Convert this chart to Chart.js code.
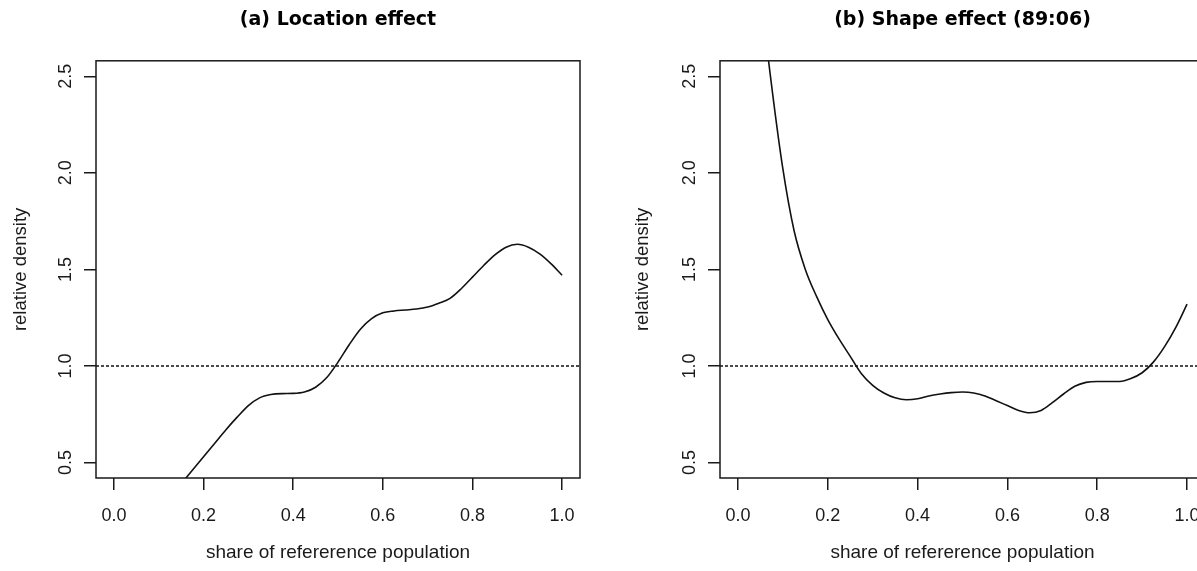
<!DOCTYPE html>
<html>
<head>
<meta charset="utf-8">
<script src="https://cdn.jsdelivr.net/npm/chart.js@4.4.0/dist/chart.umd.min.js"></script>
<style>
html, body { margin: 0; padding: 0; background: #fff; overflow: hidden; width: 1197px; height: 571px; }
canvas { position: absolute; top: 0; }
</style>
</head>
<body>
<canvas id="chartA" width="598" height="571" style="left:0"></canvas>
<canvas id="chartB" width="630" height="571" style="left:598px"></canvas>
<script>
// tick marks on both panels
var xTicks = [0, 0.2, 0.4, 0.6, 0.8, 1.0];
var yTicks = [0.5, 1.0, 1.5, 2.0, 2.5];
var xLimits = [-0.04, 1.04];
var yLimits = [0.42, 2.58];
var refLevel = 1.0;

// (a) location effect
var xA = [0, 0.05, 0.1, 0.125, 0.15, 0.175, 0.2, 0.225, 0.25, 0.275, 0.3, 0.325, 0.35, 0.375, 0.4,
          0.425, 0.45, 0.475, 0.5, 0.525, 0.55, 0.575, 0.6, 0.625, 0.65, 0.675, 0.7, 0.725, 0.75,
          0.775, 0.8, 0.825, 0.85, 0.875, 0.9, 0.925, 0.95, 0.975, 1.0];
var yA = [0.12, 0.16, 0.25, 0.32, 0.39, 0.46, 0.53, 0.60, 0.67, 0.735, 0.795, 0.835, 0.852, 0.857, 0.858,
          0.865, 0.89, 0.94, 1.02, 1.11, 1.19, 1.245, 1.275, 1.285, 1.29, 1.295, 1.305, 1.325, 1.35,
          1.40, 1.46, 1.52, 1.575, 1.615, 1.63, 1.615, 1.58, 1.53, 1.47];

// (b) shape effect
var xB = [0, 0.025, 0.05, 0.075, 0.1, 0.125, 0.15, 0.175, 0.2, 0.225, 0.25, 0.275, 0.3, 0.325, 0.35,
          0.375, 0.4, 0.425, 0.45, 0.475, 0.5, 0.525, 0.55, 0.575, 0.6, 0.625, 0.65, 0.675, 0.7,
          0.725, 0.75, 0.775, 0.8, 0.825, 0.85, 0.875, 0.9, 0.925, 0.95, 0.975, 1.0];
var yB = [4.2, 3.55, 2.95, 2.45, 2.02, 1.70, 1.50, 1.36, 1.24, 1.14, 1.05, 0.96, 0.90, 0.86, 0.835,
          0.825, 0.83, 0.845, 0.855, 0.862, 0.865, 0.86, 0.845, 0.82, 0.795, 0.77, 0.758, 0.77, 0.81,
          0.855, 0.895, 0.915, 0.92, 0.92, 0.92, 0.935, 0.965, 1.02, 1.10, 1.20, 1.32];

var ink = '#1a1a1a';
var textFont = 'Liberation Sans';

// R style frame round the plot region
var boxPlugin = {
    id: 'rbox',
    afterDatasetsDraw: function(chart) {
        var a = chart.chartArea, ctx = chart.ctx;
        ctx.save();
        ctx.strokeStyle = ink;
        ctx.lineWidth = 1.5;
        ctx.strokeRect(a.left, a.top, a.right - a.left, a.bottom - a.top);
        ctx.restore();
    }
};

function toPoints(xs, ys)
{
    var pts = [];
    for (var i = 0; i < xs.length; ++i) pts.push({x: xs[i], y: ys[i]});
    return pts;
}

function makeChart(id, titleText, xs, ys, yWidth, yTitlePad, rightPad)
{
    var tickGrid = {drawOnChartArea: false, drawTicks: true, tickLength: 12, tickColor: ink, tickWidth: 1.5, lineWidth: 1.5};
    return new Chart(document.getElementById(id), {
        type: 'line',
        data: {
            datasets: [
                {
                    data: toPoints(xs, ys),
                    borderColor: '#111',
                    borderWidth: 1.6,
                    pointRadius: 0,
                    cubicInterpolationMode: 'monotone',
                    fill: false
                },
                {
                    data: [{x: xLimits[0], y: refLevel}, {x: xLimits[1], y: refLevel}],
                    borderColor: '#111',
                    borderWidth: 1.6,
                    borderDash: [3, 2],
                    pointRadius: 0,
                    fill: false
                }
            ]
        },
        options: {
            responsive: false,
            animation: false,
            events: [],
            layout: {padding: {left: 0, right: rightPad, top: 0, bottom: 0}},
            plugins: {
                legend: {display: false},
                tooltip: {enabled: false},
                title: {
                    display: true,
                    text: titleText,
                    fullSize: false,
                    color: '#000',
                    font: {family: 'DejaVu Sans', weight: 'bold', size: 19},
                    padding: {top: 9, bottom: 29}
                }
            },
            scales: {
                x: {
                    type: 'linear',
                    min: xLimits[0],
                    max: xLimits[1],
                    afterBuildTicks: function(s) { s.ticks = xTicks.map(function(v) { return {value: v}; }); },
                    afterFit: function(s) { s.height = 93; },
                    ticks: {
                        autoSkip: false,
                        maxRotation: 0,
                        padding: 15,
                        color: ink,
                        font: {family: textFont, size: 18},
                        callback: function(v) { return v.toFixed(1); }
                    },
                    grid: tickGrid,
                    border: {display: false},
                    title: {
                        display: true,
                        text: 'share of refererence population',
                        color: ink,
                        font: {family: textFont, size: 19},
                        padding: {top: 0, bottom: 7}
                    }
                },
                y: {
                    type: 'linear',
                    min: yLimits[0],
                    max: yLimits[1],
                    afterBuildTicks: function(s) { s.ticks = yTicks.map(function(v) { return {value: v}; }); },
                    afterFit: function(s) { s.width = yWidth; },
                    ticks: {
                        minRotation: 90,
                        maxRotation: 90,
                        crossAlign: 'center',
                        padding: 5,
                        color: ink,
                        font: {family: textFont, size: 18},
                        callback: function(v) { return v.toFixed(1); }
                    },
                    grid: tickGrid,
                    border: {display: false},
                    title: {
                        display: true,
                        text: 'relative density',
                        color: ink,
                        font: {family: textFont, size: 18.5},
                        padding: {top: yTitlePad, bottom: 0}
                    }
                }
            }
        },
        plugins: [boxPlugin]
    });
}

makeChart('chartA', '(a) Location effect', xA, yA, 96, 10, 18);
makeChart('chartB', '(b) Shape effect (89:06)', xB, yB, 122, 34, 23);
</script>
</body>
</html>
